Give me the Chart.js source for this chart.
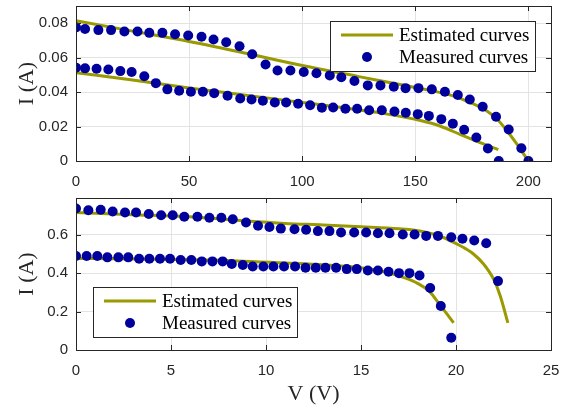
<!DOCTYPE html>
<html>
<head>
<meta charset="utf-8">
<script src="https://cdn.jsdelivr.net/npm/chart.js@4"></script>
<style>
  body { margin: 0; background: #fff; }
  #wrap { position: relative; width: 573px; height: 407px; }
  #c1 { position: absolute; left: 0; top: 0; }
  #c2 { position: absolute; left: 0; top: 190px; }
</style>
</head>
<body>
<div id="wrap">
  <canvas id="c1" width="573" height="190"></canvas>
  <canvas id="c2" width="573" height="217"></canvas>
</div>
<script>
// Datos del panel superior (V en voltios, I en amperios)
const topMeasHighV = [0, 4, 9.9, 15.5, 21.4, 27.2, 32.4, 38.2, 43.8, 49.6, 55.5, 60.8, 66.4, 72.3, 77.9, 83.8, 89.1, 94.8, 100.7, 106.3, 112.2, 117.3, 123.1, 129, 134.6, 140.5, 145.7, 151.4, 157.3, 163.1, 168.8, 174.1, 179.8, 185.7, 191.3, 196.9, 200];
const topMeasHighI = [0.0776, 0.0766, 0.0760, 0.0760, 0.0752, 0.0752, 0.0744, 0.0744, 0.0736, 0.0729, 0.0721, 0.0705, 0.0690, 0.0666, 0.0620, 0.0560, 0.0525, 0.0525, 0.0517, 0.0509, 0.0497, 0.0486, 0.0464, 0.0439, 0.0439, 0.0431, 0.0423, 0.0423, 0.0416, 0.0402, 0.0383, 0.0357, 0.0315, 0.0257, 0.0183, 0.0074, 0.0];
const topMeasLowV = [0, 4, 9.1, 14.3, 19.6, 24.6, 30.2, 35.3, 40.4, 45.6, 50.8, 56.1, 61.1, 67, 72.6, 77.6, 82.6, 87.9, 92.9, 98.2, 103.5, 108.7, 113.7, 119.1, 124.3, 129.6, 135.2, 140.8, 145.8, 151.1, 156, 161.5, 166.6, 171.6, 177, 182.1, 186.9];
const topMeasLowI = [0.0542, 0.0538, 0.0536, 0.0531, 0.0522, 0.0517, 0.0492, 0.0452, 0.0416, 0.0408, 0.0402, 0.0402, 0.0394, 0.0379, 0.0363, 0.0357, 0.0350, 0.0340, 0.0340, 0.0332, 0.0324, 0.0309, 0.0311, 0.0303, 0.0303, 0.0295, 0.0295, 0.0287, 0.0280, 0.0272, 0.0262, 0.0243, 0.0217, 0.0181, 0.0136, 0.0073, 0.0];
const topEstHighV = [0, 25, 50, 75, 100, 125, 145, 158, 167, 174.5, 181.8, 186.3, 190.7, 195.1, 199.6];
const topEstHighI = [0.0814, 0.0754, 0.0694, 0.0626, 0.0554, 0.0490, 0.0440, 0.0406, 0.0377, 0.0338, 0.0289, 0.0241, 0.0173, 0.0095, 0.0008];
const topEstLowV = [0, 25, 50, 75, 100, 120, 135, 152.3, 161.2, 170, 178.9, 186.7];
const topEstLowI = [0.0513, 0.0470, 0.0424, 0.0382, 0.0340, 0.0306, 0.0278, 0.0235, 0.0202, 0.0153, 0.0105, 0.0066];
const topXTicks = [0, 50, 100, 150, 200];
const topYTicks = [0, 0.02, 0.04, 0.06, 0.08];

// Datos del panel inferior
const botMeasHighV = [0, 0.65, 1.3, 1.93, 2.58, 3.16, 3.83, 4.48, 5.09, 5.7, 6.39, 7.02, 7.65, 8.25, 8.95, 9.58, 10.18, 10.78, 11.5, 12.11, 12.73, 13.34, 13.95, 14.64, 15.27, 15.89, 16.5, 17.2, 17.82, 18.43, 19.05, 19.75, 20.34, 20.96, 21.59, 22.21];
const botMeasHighI = [0.735, 0.726, 0.729, 0.720, 0.715, 0.715, 0.707, 0.700, 0.700, 0.693, 0.693, 0.687, 0.687, 0.680, 0.663, 0.646, 0.639, 0.631, 0.628, 0.625, 0.618, 0.618, 0.611, 0.611, 0.611, 0.607, 0.607, 0.600, 0.600, 0.593, 0.593, 0.586, 0.578, 0.569, 0.555, 0.358];
const botMeasLowV = [0, 0.56, 1.12, 1.65, 2.23, 2.75, 3.32, 3.86, 4.42, 4.95, 5.51, 6.07, 6.62, 7.18, 7.72, 8.2, 8.78, 9.3, 9.86, 10.39, 10.95, 11.53, 12.08, 12.62, 13.13, 13.69, 14.25, 14.78, 15.36, 15.89, 16.45, 17.0, 17.55, 18.08, 18.64, 19.2, 19.75];
const botMeasLowI = [0.4885, 0.4885, 0.4885, 0.4815, 0.4815, 0.4815, 0.4745, 0.4745, 0.4745, 0.4745, 0.4675, 0.4675, 0.4605, 0.4605, 0.4605, 0.4466, 0.4414, 0.4344, 0.4344, 0.4344, 0.4344, 0.4344, 0.4274, 0.4274, 0.4274, 0.4274, 0.4204, 0.4204, 0.4134, 0.4134, 0.4064, 0.3995, 0.3995, 0.387, 0.3226, 0.2284, 0.064];
const botEstHighV = [0, 3, 6, 9, 11, 13, 15, 17, 18.3, 19.2, 20.05, 20.5, 20.92, 21.45, 21.98, 22.33, 22.73];
const botEstHighI = [0.714, 0.703, 0.692, 0.670, 0.658, 0.650, 0.641, 0.630, 0.615, 0.590, 0.551, 0.527, 0.499, 0.447, 0.368, 0.281, 0.141];
const botEstLowV = [0, 3, 6, 8.5, 11, 13, 14.5, 15.5, 16.5, 17.3, 18, 18.6, 19.17, 19.5, 19.87];
const botEstLowI = [0.476, 0.473, 0.469, 0.463, 0.452, 0.443, 0.433, 0.421, 0.400, 0.375, 0.345, 0.305, 0.232, 0.19, 0.141];
const botXTicks = [0, 5, 10, 15, 20, 25];
const botYTicks = [0, 0.2, 0.4, 0.6];

const azul = '#00009c';
const oliva = '#9a9a00';
const ejes = '#262626';

function puntos(xs, ys) {
    return xs.map((x, i) => ({ x: x, y: ys[i] }));
}

// Dibuja la leyenda con recuadro y las marcas de los ejes hacia dentro
const cajaPlugin = {
    id: 'caja',
    afterDraw(chart, args, opts) {
        const ctx = chart.ctx;
        const a = chart.chartArea;
        const sx = chart.scales.x, sy = chart.scales.y;
        ctx.save();
        ctx.strokeStyle = ejes;
        ctx.lineWidth = 1;
        ctx.beginPath();
        sx.ticks.forEach(t => {
            const px = Math.round(sx.getPixelForValue(t.value)) + 0.5;
            ctx.moveTo(px, a.bottom); ctx.lineTo(px, a.bottom - 5);
            ctx.moveTo(px, a.top); ctx.lineTo(px, a.top + 5);
        });
        sy.ticks.forEach(t => {
            const py = Math.round(sy.getPixelForValue(t.value)) + 0.5;
            ctx.moveTo(a.left, py); ctx.lineTo(a.left + 5, py);
            ctx.moveTo(a.right, py); ctx.lineTo(a.right - 5, py);
        });
        ctx.stroke();
        ctx.strokeRect(Math.round(a.left) + 0.5, Math.round(a.top) + 0.5, Math.round(a.right - a.left), Math.round(a.bottom - a.top));

        // Leyenda
        const w = opts.w, h = opts.h;
        const bx = opts.right !== undefined ? a.right - opts.right - w : a.left + opts.left;
        const by = opts.top !== undefined ? a.top + opts.top : a.bottom - opts.bottom - h;
        ctx.fillStyle = '#fff';
        ctx.fillRect(bx, by, w, h);
        ctx.strokeStyle = ejes;
        ctx.strokeRect(Math.round(bx) + 0.5, Math.round(by) + 0.5, w, h);
        const items = chart.data.datasets.filter(d => d.label);
        ctx.font = '19px "Liberation Serif", serif';
        ctx.textBaseline = 'middle';
        items.forEach((d, i) => {
            const y = by + 14 + i * 22;
            if (d.showLine) {
                ctx.strokeStyle = d.borderColor;
                ctx.lineWidth = 3;
                ctx.beginPath();
                ctx.moveTo(bx + 11, y); ctx.lineTo(bx + 63, y);
                ctx.stroke();
            } else {
                ctx.fillStyle = d.backgroundColor;
                ctx.beginPath();
                ctx.arc(bx + 37, y, 5, 0, Math.PI * 2);
                ctx.fill();
            }
            ctx.fillStyle = '#000';
            ctx.fillText(d.label, bx + 69, y + 1);
        });
        ctx.restore();
    }
};

function crearGrafico(id, cfg) {
    const medidos = (xs, ys, label) => ({
        label: label, data: puntos(xs, ys), showLine: false, order: 0,
        pointRadius: 5, pointHoverRadius: 5, backgroundColor: azul, borderColor: azul, borderWidth: 0
    });
    const estimados = (xs, ys, label) => ({
        label: label, data: puntos(xs, ys), showLine: true, order: 1,
        pointRadius: 0, borderColor: oliva, backgroundColor: oliva, borderWidth: 3,
        cubicInterpolationMode: 'monotone'
    });
    return new Chart(document.getElementById(id), {
        type: 'scatter',
        data: {
            datasets: [
                estimados(cfg.eh[0], cfg.eh[1], 'Estimated curves'),
                estimados(cfg.el[0], cfg.el[1], ''),
                medidos(cfg.mh[0], cfg.mh[1], 'Measured curves'),
                medidos(cfg.ml[0], cfg.ml[1], '')
            ]
        },
        options: {
            responsive: false,
            animation: false,
            devicePixelRatio: 1,
            layout: { padding: { left: 0, right: 22, top: cfg.padTop, bottom: 0 } },
            plugins: { legend: { display: false }, tooltip: { enabled: false }, caja: cfg.leyenda },
            scales: {
                x: {
                    type: 'linear', min: cfg.xmin, max: cfg.xmax,
                    afterBuildTicks: s => { s.ticks = cfg.xt.map(v => ({ value: v })); },
                    afterFit: s => { s.height = cfg.xh; s.paddingLeft = 0; s.paddingRight = 0; },
                    grid: { color: '#e3e3e3', drawTicks: false },
                    border: { color: ejes },
                    ticks: { color: ejes, padding: 12, maxRotation: 0, font: { family: '"Liberation Sans", Arial, sans-serif', size: 15 } },
                    title: cfg.xtitle ? {
                        display: true, text: 'V (V)', color: ejes,
                        font: { family: '"Liberation Serif", serif', size: 22 }, padding: { top: 0, bottom: 0 }
                    } : { display: false }
                },
                y: {
                    type: 'linear', min: 0, max: cfg.ymax,
                    afterBuildTicks: s => { s.ticks = cfg.yt.map(v => ({ value: v })); },
                    afterFit: s => { s.width = 76; s.paddingTop = 0; s.paddingBottom = 0; },
                    grid: { color: '#e3e3e3', drawTicks: false },
                    border: { color: ejes },
                    ticks: { color: ejes, padding: 8, callback: v => String(v), font: { family: '"Liberation Sans", Arial, sans-serif', size: 15 } },
                    title: {
                        display: true, text: 'I (A)', color: ejes,
                        font: { family: '"Liberation Serif", serif', size: 22 }, padding: { top: 14, bottom: 0 }
                    }
                }
            }
        },
        plugins: [cajaPlugin]
    });
}

crearGrafico('c1', {
    mh: [topMeasHighV, topMeasHighI], ml: [topMeasLowV, topMeasLowI],
    eh: [topEstHighV, topEstHighI], el: [topEstLowV, topEstLowI],
    xmin: 0, xmax: 210, ymax: 0.09, xt: topXTicks, yt: topYTicks,
    padTop: 6, xh: 29, xtitle: false,
    leyenda: { right: 16, top: 15, w: 205, h: 50 }
});

crearGrafico('c2', {
    mh: [botMeasHighV, botMeasHighI], ml: [botMeasLowV, botMeasLowI],
    eh: [botEstHighV, botEstHighI], el: [botEstLowV, botEstLowI],
    xmin: 0, xmax: 25, ymax: 0.79, xt: botXTicks, yt: botYTicks,
    padTop: 8, xh: 57, xtitle: true,
    leyenda: { left: 17, bottom: 13, w: 204, h: 50 }
});
</script>
</body>
</html>
